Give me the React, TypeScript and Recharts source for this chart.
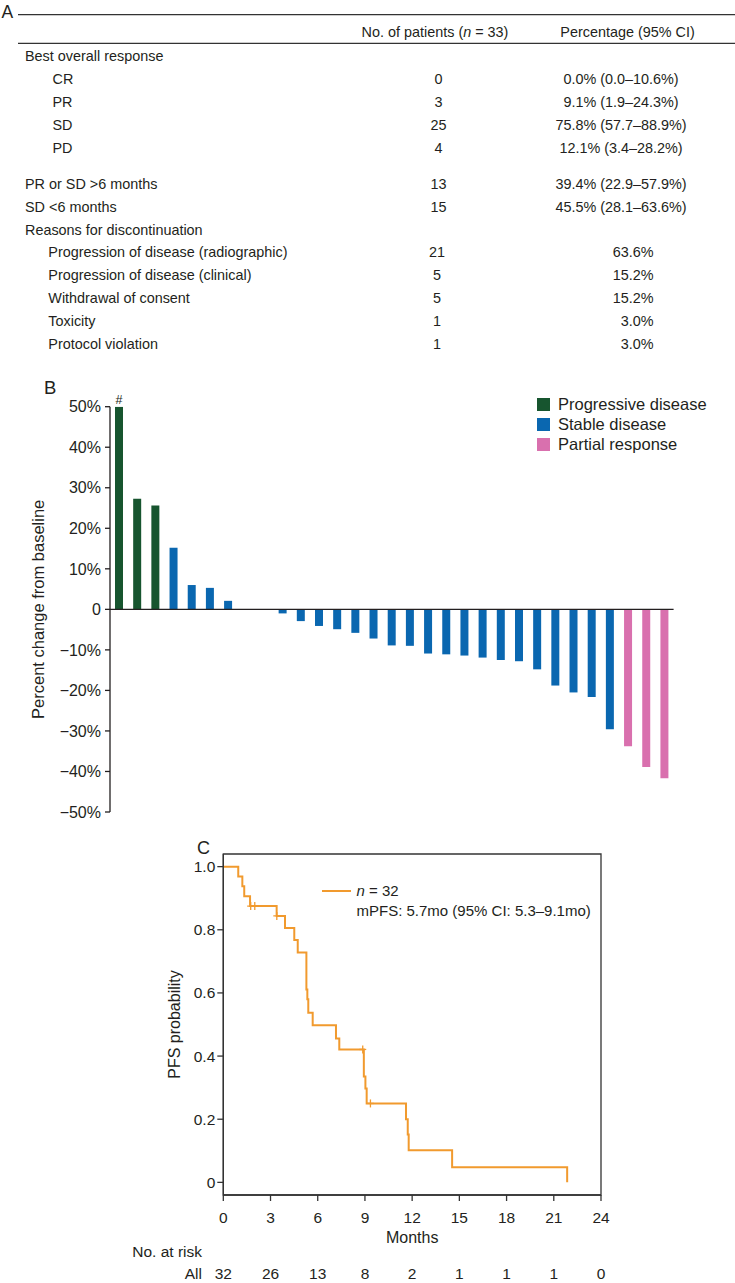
import React from 'react';
import {
  BarChart, Bar, XAxis, YAxis, Cell, ReferenceLine, LabelList, Legend,
  ComposedChart, Line, Scatter, ReferenceArea,
} from 'recharts';

const FONT = '"Liberation Sans", Arial, Helvetica, sans-serif';
const INK = '#231f20';

// ---------- Panel A: table ----------
const headerPatients = 'No. of patients (';
const headerPatientsTail = ' = 33)';
const headerPercent = 'Percentage (95% CI)';
const bestResponseLabel = 'Best overall response';
const responseCats = ['CR', 'PR', 'SD', 'PD'];
const responseCounts = [0, 3, 25, 4];
const responsePercents = ['0.0% (0.0–10.6%)', '9.1% (1.9–24.3%)', '75.8% (57.7–88.9%)', '12.1% (3.4–28.2%)'];
const durationCats = ['PR or SD >6 months', 'SD <6 months'];
const durationCounts = [13, 15];
const durationPercents = ['39.4% (22.9–57.9%)', '45.5% (28.1–63.6%)'];
const discontinuationLabel = 'Reasons for discontinuation';
const discontinuationCats = [
  'Progression of disease (radiographic)',
  'Progression of disease (clinical)',
  'Withdrawal of consent',
  'Toxicity',
  'Protocol violation',
];
const discontinuationCounts = [21, 5, 5, 1, 1];
const discontinuationPercents = ['63.6%', '15.2%', '15.2%', '3.0%', '3.0%'];

// ---------- Panel B: waterfall ----------
const patientIds = [
  'P1', 'P2', 'P3', 'P4', 'P5', 'P6', 'P7', 'P8', 'P9', 'P10', 'P11', 'P12', 'P13', 'P14', 'P15', 'P16',
  'P17', 'P18', 'P19', 'P20', 'P21', 'P22', 'P23', 'P24', 'P25', 'P26', 'P27', 'P28', 'P29', 'P30', 'P31',
];
const changeValues = [
  50, 27.3, 25.6, 15.2, 6.0, 5.3, 2.1, 0, 0, -1.0, -2.9, -4.1, -4.9, -5.8, -7.2, -8.9,
  -9.0, -10.9, -11.1, -11.4, -11.9, -12.5, -12.8, -14.8, -18.8, -20.5, -21.6, -29.6, -33.8, -38.9, -41.7,
];
const responseTypes = [
  'PD', 'PD', 'PD', 'SD', 'SD', 'SD', 'SD', 'SD', 'SD', 'SD', 'SD', 'SD', 'SD', 'SD', 'SD', 'SD',
  'SD', 'SD', 'SD', 'SD', 'SD', 'SD', 'SD', 'SD', 'SD', 'SD', 'SD', 'SD', 'PR', 'PR', 'PR',
];
const barNotes = ['#', '', '', '', '', '', '', '', '', '', '', '', '', '', '', '', '', '', '', '', '', '', '', '', '', '', '', '', '', '', ''];
const changeTicks = [50, 40, 30, 20, 10, 0, -10, -20, -30, -40, -50];
const legendKeys = ['PD', 'SD', 'PR'];
const legendNames = ['Progressive disease', 'Stable disease', 'Partial response'];
const typeColors: Record<string, string> = { PD: '#17552f', SD: '#0a67b0', PR: '#d970ae' };

// ---------- Panel C: Kaplan-Meier ----------
const kmTimes = [0, 0.95, 1.21, 1.33, 1.70, 3.39, 3.92, 4.51, 4.73, 5.28, 5.34, 5.40, 5.68, 7.16, 7.37, 8.93, 9.03, 9.11, 11.61, 11.72, 11.78, 14.54, 21.85];
const kmSurvival = [1.0, 0.969, 0.938, 0.906, 0.875, 0.844, 0.806, 0.768, 0.728, 0.611, 0.580, 0.537, 0.498, 0.456, 0.421, 0.335, 0.297, 0.250, 0.200, 0.152, 0.102, 0.048, 0.0];
const censorTimes = [1.74, 2.0, 3.4, 8.86, 9.35];
const censorSurvival = [0.875, 0.875, 0.844, 0.421, 0.25];
const riskTimes = [0, 3, 6, 9, 12, 15, 18, 21, 24];
const atRisk = [32, 26, 13, 8, 2, 1, 1, 1, 0];
const kmYTicks = [0, 0.2, 0.4, 0.6, 0.8, 1.0];
const ORANGE = '#f19a2e';

const waterfallData = patientIds.map((p, i) => ({ p, v: changeValues[i], type: responseTypes[i], note: barNotes[i] }));
const kmData = kmTimes.map((t, i) => ({ t, s: kmSurvival[i] }));
const censorData = censorTimes.map((t, i) => ({ t, s: censorSurvival[i] }));

const fmtChange = (v: number) => (v === 0 ? '0' : v < 0 ? `\u2212${-v}%` : `${v}%`);
const fmtProb = (v: number) => (v === 0 ? '0' : v.toFixed(1));

const RotLabel = (props: any) => {
  const { viewBox, text, ax, fontSize } = props;
  const cy = viewBox.y + viewBox.height / 2;
  return (
    <text x={ax} y={cy} transform={`rotate(-90 ${ax} ${cy})`} textAnchor="middle"
      fontSize={fontSize} fill={INK} fontFamily={FONT}>{text}</text>
  );
};

const WaterLegend = () => (
  <div style={{ fontFamily: FONT, fontSize: 16.5, color: INK, whiteSpace: 'nowrap' }}>
    {legendKeys.map((k, i) => (
      <div key={k} style={{ height: 20, display: 'flex', alignItems: 'center' }}>
        <span style={{ display: 'inline-block', width: 13, height: 13, background: typeColors[k], marginRight: 8 }} />
        <span>{legendNames[i]}</span>
      </div>
    ))}
  </div>
);

const KmLegend = () => (
  <div style={{ fontFamily: FONT, fontSize: 15, color: INK, whiteSpace: 'nowrap' }}>
    <div style={{ height: 20, display: 'flex', alignItems: 'center' }}>
      <svg width={29} height={4} style={{ marginRight: 6 }}>
        <line x1={0} y1={2} x2={29} y2={2} stroke={ORANGE} strokeWidth={2} />
      </svg>
      <span><i>n</i> = 32</span>
    </div>
    <div style={{ height: 20, lineHeight: '20px', marginLeft: 35 }}>mPFS: 5.7mo (95% CI: 5.3–9.1mo)</div>
  </div>
);

const KmTick = (props: any) => {
  const { x, y, payload } = props;
  const idx = riskTimes.indexOf(payload.value);
  return (
    <g fontFamily={FONT} fill={INK} fontSize={15.5}>
      <text x={x} y={y + 19.5} textAnchor="middle">{payload.value}</text>
      <text x={x} y={y + 76} textAnchor="middle">{atRisk[idx]}</text>
    </g>
  );
};

const CensorMark = (props: any) => {
  const { cx, cy } = props;
  return (
    <g stroke={ORANGE} strokeWidth={1.3}>
      <line x1={cx} y1={cy - 4} x2={cx} y2={cy + 4} />
      <line x1={cx - 3.5} y1={cy} x2={cx + 3.5} y2={cy} />
    </g>
  );
};

const TableA = () => {
  const F = 14.4;
  const bl = (yc: number) => yc + 0.358 * F;
  const txt = { fontFamily: FONT, fontSize: F, fill: INK } as const;
  return (
    <svg width={735} height={360} style={{ position: 'absolute', left: 0, top: 0 }}>
      <text x={1.5} y={18.3} fontFamily={FONT} fontSize={17.5} fill={INK}>A</text>
      <line x1={18} y1={14.7} x2={735} y2={14.7} stroke="#333" strokeWidth={1.3} />
      <line x1={18} y1={43.3} x2={735} y2={43.3} stroke="#333" strokeWidth={1.3} />
      <text x={435} y={bl(31.5)} textAnchor="middle" {...txt}>
        {headerPatients}<tspan fontStyle="italic">n</tspan>{headerPatientsTail}
      </text>
      <text x={627.5} y={bl(31.5)} textAnchor="middle" {...txt}>{headerPercent}</text>
      <text x={25} y={bl(56)} {...txt}>{bestResponseLabel}</text>
      {responseCats.map((c, i) => (
        <g key={c}>
          <text x={52.5} y={bl(79 + i * 23)} {...txt}>{c}</text>
          <text x={438.5} y={bl(79 + i * 23)} textAnchor="middle" {...txt}>{responseCounts[i]}</text>
          <text x={621} y={bl(79 + i * 23)} textAnchor="middle" {...txt}>{responsePercents[i]}</text>
        </g>
      ))}
      {durationCats.map((c, i) => (
        <g key={c}>
          <text x={25} y={bl(183.5 + i * 23)} {...txt}>{c}</text>
          <text x={438.5} y={bl(183.5 + i * 23)} textAnchor="middle" {...txt}>{durationCounts[i]}</text>
          <text x={621} y={bl(183.5 + i * 23)} textAnchor="middle" {...txt}>{durationPercents[i]}</text>
        </g>
      ))}
      <text x={25} y={bl(230)} {...txt}>{discontinuationLabel}</text>
      {discontinuationCats.map((c, i) => (
        <g key={c}>
          <text x={48.3} y={bl(252.3 + i * 22.8)} {...txt}>{c}</text>
          <text x={437} y={bl(252.3 + i * 22.8)} textAnchor="middle" {...txt}>{discontinuationCounts[i]}</text>
          <text x={653.5} y={bl(252.3 + i * 22.8)} textAnchor="end" {...txt}>{discontinuationPercents[i]}</text>
        </g>
      ))}
    </svg>
  );
};

export default function App() {
  return (
    <div style={{ position: 'absolute', left: 0, top: 0, width: 735, height: 1283, background: '#fff', fontFamily: FONT, overflow: 'hidden' }}>
      <TableA />

      {/* Panel B */}
      <div style={{ position: 'absolute', left: 0, top: 370 }}>
        <BarChart width={735} height={460} data={waterfallData}
          margin={{ top: 36.7, right: 61.4, bottom: 18, left: 0 }} barCategoryGap={0}>
          <XAxis dataKey="p" hide />
          <YAxis width={110} domain={[-50, 50]} ticks={changeTicks} interval={0} allowDataOverflow
            tickFormatter={fmtChange} tickSize={5} tickMargin={4}
            axisLine={{ stroke: INK, strokeWidth: 1.3 }} tickLine={{ stroke: INK, strokeWidth: 1.3 }}
            tick={{ fontSize: 16, fill: INK, fontFamily: FONT }}
            label={<RotLabel text="Percent change from baseline" ax={44} fontSize={16.5} />} />
          <Bar dataKey="v" barSize={8} isAnimationActive={false}>
            {waterfallData.map((d, i) => (
              <Cell key={i} fill={typeColors[d.type]} />
            ))}
            <LabelList dataKey="note" position="top" offset={3}
              style={{ fontSize: 12.5, fill: INK, fontFamily: FONT }} />
          </Bar>
          <ReferenceLine y={0} stroke={INK} strokeWidth={1.3} />
          <Legend layout="vertical" align="center" verticalAlign="middle"
            wrapperStyle={{ left: 537, top: 24.3, width: 'auto' }} content={<WaterLegend />} />
        </BarChart>
        <div style={{ position: 'absolute', left: 44, top: 8, fontSize: 18.5, color: INK, fontFamily: FONT, lineHeight: '20px' }}>B</div>
      </div>

      {/* Panel C */}
      <div style={{ position: 'absolute', left: 0, top: 840 }}>
        <ComposedChart width={735} height={443} margin={{ top: 14, right: 134, bottom: 0, left: 0 }}>
          <XAxis dataKey="t" type="number" domain={[0, 24]} ticks={riskTimes} interval={0} allowDataOverflow
            height={88} tickSize={6} tickMargin={2}
            axisLine={{ stroke: '#333', strokeWidth: 1.3 }} tickLine={{ stroke: '#333', strokeWidth: 1.3 }}
            tick={<KmTick />}
            label={{ value: 'Months', position: 'insideTop', offset: 37, fontSize: 16, fill: INK, fontFamily: FONT }} />
          <YAxis type="number" domain={[-0.04, 1.04]} ticks={kmYTicks} interval={0} allowDataOverflow
            width={223.3} tickFormatter={fmtProb} tickSize={6} tickMargin={2}
            axisLine={{ stroke: '#333', strokeWidth: 1.3 }} tickLine={{ stroke: '#333', strokeWidth: 1.3 }}
            tick={{ fontSize: 15.5, fill: INK, fontFamily: FONT }}
            label={<RotLabel text="PFS probability" ax={180} fontSize={16} />} />
          <ReferenceArea x1={0} x2={24} y1={-0.04} y2={1.04} fill="none" fillOpacity={0}
            stroke="#333" strokeWidth={1.3} ifOverflow="visible" />
          <Line data={kmData} dataKey="s" type="stepAfter" stroke={ORANGE} strokeWidth={2}
            dot={false} activeDot={false} isAnimationActive={false} />
          <Scatter data={censorData} dataKey="s" shape={<CensorMark />} isAnimationActive={false} />
          <Legend layout="vertical" align="center" verticalAlign="middle"
            wrapperStyle={{ left: 321.5, top: 40.7, width: 'auto' }} content={<KmLegend />} />
        </ComposedChart>
        <div style={{ position: 'absolute', left: 197, top: 0, fontSize: 18, color: INK, fontFamily: FONT, lineHeight: '17px' }}>C</div>
        <div style={{ position: 'absolute', left: 0, width: 202, textAlign: 'right', top: 402, fontSize: 15.5, color: INK, fontFamily: FONT, lineHeight: '20px' }}>No. at risk</div>
        <div style={{ position: 'absolute', left: 0, width: 202, textAlign: 'right', top: 423.5, fontSize: 15.5, color: INK, fontFamily: FONT, lineHeight: '20px' }}>All</div>
      </div>
    </div>
  );
}
